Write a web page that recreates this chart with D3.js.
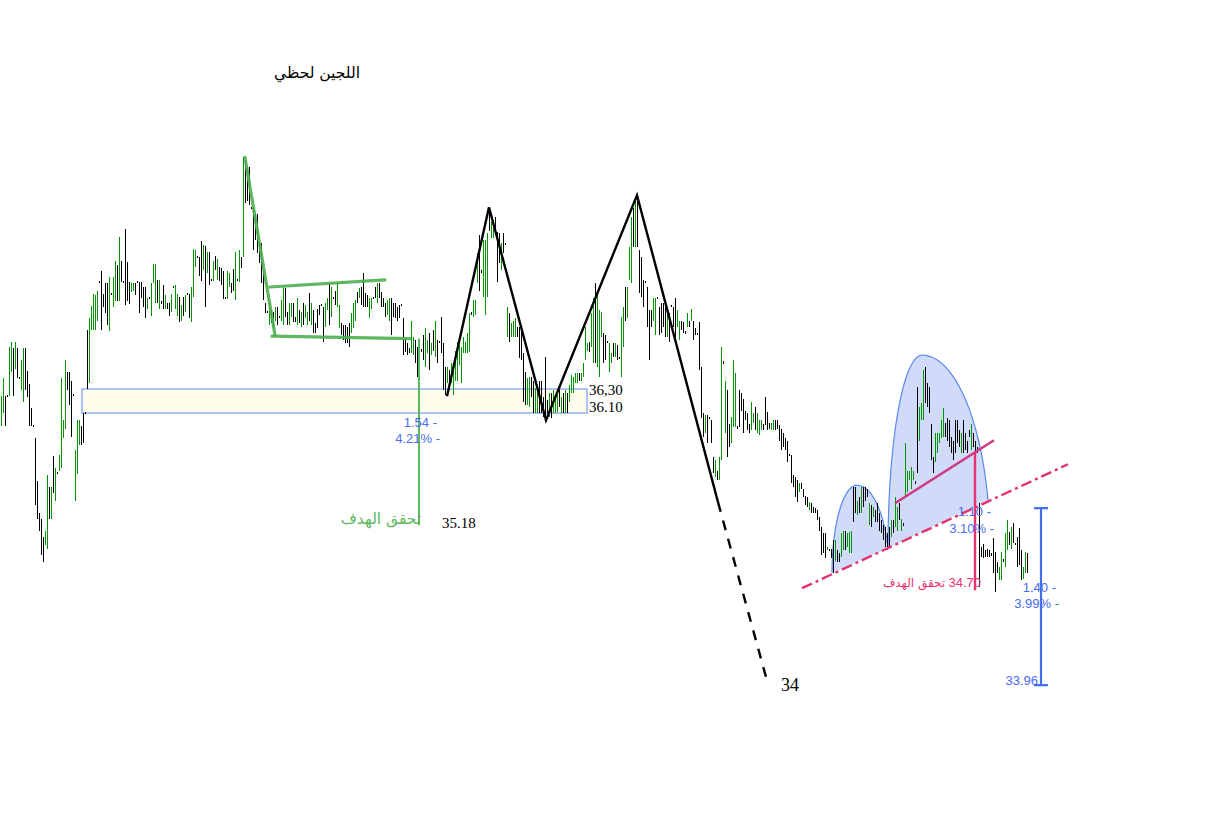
<!DOCTYPE html>
<html><head><meta charset="utf-8">
<script src="https://cdn.jsdelivr.net/npm/d3@7"></script>
<style>body{margin:0;background:#fff}svg{display:block}</style>
</head><body>
<svg id="c" width="1217" height="835"></svg>
<script>
// ---- DATA: bar highs / lows (price), direction (G = up, B = down) ----
const highs = [
36.24,36.39,36.24,36.25,36.65,36.69,36.64,36.69,36.64,36.40,
36.54,36.64,36.64,36.45,36.34,36.14,36.00,35.89,35.53,35.27,
35.22,35.07,35.12,35.58,35.48,35.48,35.74,35.64,35.61,35.75,
36.39,36.04,36.54,36.44,36.44,36.37,36.26,35.79,36.04,36.04,
35.99,36.10,36.11,36.79,36.89,36.99,37.09,37.08,37.12,37.20,
37.28,37.09,37.18,37.18,37.23,37.10,37.23,37.37,37.33,37.57,
37.37,37.20,37.63,37.36,37.19,37.18,37.18,37.18,37.20,37.19,
37.19,37.15,37.15,37.06,37.07,37.18,37.34,37.34,37.21,37.21,
37.03,37.17,37.08,37.02,37.02,37.09,37.16,37.17,37.09,37.07,
37.00,37.07,37.08,37.10,37.09,37.15,37.47,37.46,37.41,37.40,
37.53,37.50,37.49,37.44,37.44,37.22,37.37,37.41,37.38,37.32,
37.31,37.28,37.07,37.28,37.27,37.18,37.30,37.44,37.22,37.46,
37.40,38.23,38.21,38.15,38.15,37.82,37.81,37.77,37.76,37.52,
37.52,37.29,37.02,36.95,37.00,36.96,36.94,36.98,36.98,36.91,
37.04,37.15,37.14,36.94,37.02,37.02,37.02,36.90,37.06,36.96,
36.94,37.02,37.00,36.94,37.10,37.02,36.96,36.85,36.97,37.00,
37.01,36.98,37.02,37.06,37.18,37.15,37.07,37.12,37.18,37.00,
36.85,36.83,36.83,36.82,36.85,36.93,37.02,37.04,37.11,37.14,
37.15,37.27,37.10,37.08,37.06,37.06,37.07,37.15,37.18,37.18,
37.11,37.06,37.02,37.04,37.06,37.06,37.02,37.02,36.98,37.00,
37.01,36.89,36.72,36.68,36.64,36.87,36.73,36.71,36.65,36.62,
36.63,36.75,36.81,36.71,36.77,36.68,36.79,36.87,36.71,36.70,
36.90,36.68,36.48,36.48,36.46,36.52,36.52,36.62,36.69,36.67,
36.65,36.73,36.69,36.77,36.93,36.94,37.04,37.04,37.43,37.58,
37.29,37.54,37.54,37.60,37.81,37.69,37.71,37.73,37.61,37.60,
37.52,37.60,37.52,36.98,36.93,36.85,36.87,36.89,36.82,36.82,
36.79,36.60,36.44,36.39,36.40,36.40,36.37,36.31,36.29,36.37,
36.37,36.23,36.57,36.21,36.27,36.27,36.29,36.23,36.25,36.29,
36.23,36.27,36.29,36.27,36.33,36.42,36.40,36.43,36.43,36.43,
36.43,36.52,36.82,36.68,36.69,36.93,37.06,37.18,37.10,36.96,
36.94,36.77,36.75,36.70,36.68,36.60,36.68,36.68,36.67,36.57,
36.90,36.98,37.15,37.15,37.48,37.73,37.81,37.87,37.87,37.46,
37.40,37.21,37.20,37.15,36.96,36.96,37.06,37.06,37.07,36.98,
37.02,37.02,36.98,36.93,36.93,37.00,36.98,37.06,36.96,36.87,
36.87,36.86,36.78,36.93,36.87,36.97,36.87,36.81,36.77,36.86,
36.48,36.10,36.08,36.08,36.07,36.04,35.73,35.71,35.62,35.73,
36.65,36.53,36.37,36.29,36.01,36.07,36.54,36.43,35.99,36.29,
36.27,36.22,36.12,36.10,36.01,36.19,36.10,36.15,36.10,36.04,
36.04,36.01,36.23,36.11,36.02,36.02,36.04,36.04,36.04,36.00,
35.97,35.93,35.89,35.87,35.76,35.75,35.58,35.57,35.54,35.52,
35.52,35.47,35.41,35.40,35.36,35.35,35.32,35.31,35.29,35.23,
35.15,35.10,35.10,34.98,34.97,34.97,35.04,35.04,34.96,34.93,
35.10,35.12,35.12,35.10,35.11,35.12,35.48,35.48,35.37,35.40,
35.48,35.48,35.48,35.47,35.35,35.33,35.32,35.29,35.35,35.27,
35.21,35.17,35.15,35.10,35.15,35.21,35.21,35.40,35.32,35.35,
35.22,35.18,35.85,35.62,35.62,35.65,35.62,35.53,36.32,36.15,
36.18,36.46,36.48,36.35,36.32,36.01,35.73,35.93,35.93,35.93,
36.04,36.14,36.02,36.06,36.04,35.90,35.87,36.04,36.04,35.96,
35.93,36.04,35.93,35.87,35.96,36.01,35.93,35.87,35.82,35.35,
34.98,35.01,34.96,34.97,34.96,34.93,35.06,34.94,34.86,34.82,
34.94,34.88,35.10,35.21,35.11,35.15,35.18,35.02,35.07,35.14,
34.96,34.82,34.94,34.93];
const lows = [
35.99,36.10,35.99,36.23,36.24,36.44,36.24,36.47,36.39,36.38,
36.29,36.19,36.29,36.23,35.99,35.99,35.98,35.33,35.22,35.12,
34.92,34.86,35.00,34.97,35.22,35.22,35.43,35.37,35.59,35.62,
35.64,35.89,35.97,36.29,36.17,35.90,36.24,35.37,35.59,35.83,
35.83,35.85,36.09,36.30,36.35,36.79,36.79,36.79,36.87,37.18,
36.79,36.98,36.93,36.83,36.78,37.08,36.98,37.03,37.03,37.03,
37.19,37.18,37.00,37.03,37.01,37.11,37.12,37.08,37.18,36.93,
37.06,36.98,36.89,36.97,37.05,36.91,37.18,37.02,37.02,36.97,
37.01,36.97,36.97,36.97,36.91,36.94,37.14,36.97,36.91,36.86,
36.87,36.91,36.94,37.08,36.89,36.86,37.07,37.32,37.39,37.24,
37.20,37.29,36.98,37.27,37.17,37.20,37.20,37.29,37.21,37.20,
37.17,37.05,37.05,37.05,37.15,37.10,37.12,37.04,37.20,37.19,
37.31,37.40,37.85,37.87,37.83,37.80,37.46,37.54,37.43,37.35,
37.18,37.04,36.93,36.93,36.83,36.85,36.82,36.87,36.83,36.89,
36.87,36.83,36.90,36.83,36.83,36.90,36.86,36.86,36.83,36.85,
36.82,36.83,36.89,36.83,36.87,36.83,36.77,36.77,36.81,36.92,
36.99,36.69,36.82,36.96,36.83,36.90,37.05,37.00,36.98,36.81,
36.75,36.71,36.68,36.68,36.65,36.77,36.81,36.87,37.02,37.06,
37.00,36.98,36.98,36.98,36.89,36.97,37.05,37.06,37.02,37.06,
36.98,36.98,36.90,36.92,36.87,36.75,36.90,36.89,36.87,36.89,
36.99,36.58,36.61,36.58,36.60,36.60,36.58,36.52,36.40,36.46,
36.61,36.54,36.48,36.60,36.46,36.58,36.62,36.57,36.52,36.68,
36.60,36.29,36.25,36.35,36.29,36.35,36.25,36.37,36.37,36.50,
36.35,36.60,36.60,36.60,36.61,36.92,36.90,36.92,37.18,37.12,
37.27,37.07,36.92,37.07,37.62,37.56,37.56,37.62,37.19,37.35,
37.29,37.43,37.50,36.73,36.69,36.73,36.73,36.73,36.73,36.56,
36.54,36.19,36.17,36.17,36.15,36.23,36.10,36.10,36.10,36.10,
36.10,36.07,36.04,36.10,36.07,36.06,36.10,36.10,36.11,36.15,
36.10,36.10,36.10,36.10,36.19,36.27,36.27,36.35,36.35,36.37,
36.37,36.40,36.54,36.62,36.61,36.65,36.52,36.52,36.48,36.40,
36.73,36.52,36.54,36.68,36.44,36.52,36.57,36.57,36.54,36.55,
36.40,36.65,36.87,36.89,37.21,37.18,37.48,37.48,37.48,37.10,
37.07,36.98,37.18,36.82,36.54,36.82,36.87,36.75,37.05,36.75,
36.77,36.82,36.73,36.73,36.69,36.98,36.82,36.73,36.82,36.71,
36.79,36.77,36.76,36.82,36.82,36.87,36.71,36.75,36.75,36.46,
36.06,35.90,35.93,35.85,36.05,35.85,35.60,35.57,35.54,35.54,
35.71,36.51,35.93,35.73,35.82,35.85,35.98,35.98,35.97,35.98,
36.12,35.93,36.04,35.96,35.93,35.96,36.02,35.96,35.93,35.92,
35.96,35.96,36.00,35.96,35.97,35.96,35.96,35.96,35.97,35.87,
35.79,35.82,35.79,35.69,35.74,35.52,35.48,35.40,35.36,35.44,
35.47,35.40,35.33,35.32,35.29,35.27,35.27,35.27,35.21,35.12,
34.92,34.93,34.89,34.96,34.95,34.89,34.77,34.87,34.86,34.86,
34.90,34.96,34.96,34.98,34.93,34.93,35.19,35.27,35.25,35.27,
35.27,35.32,35.37,35.40,35.17,35.15,35.23,35.19,35.19,35.12,
35.10,35.04,34.98,34.96,34.98,35.07,35.10,35.15,35.12,35.21,
35.12,35.16,35.40,35.44,35.54,35.47,35.54,35.51,35.60,35.87,
36.04,36.04,36.18,36.15,36.10,35.71,35.60,35.69,35.77,35.85,
35.89,35.90,35.90,35.87,35.82,35.77,35.71,35.77,35.85,35.82,
35.77,35.77,35.79,35.77,35.90,35.79,35.82,35.73,35.77,34.65,
34.90,34.89,34.90,34.90,34.90,34.91,34.77,34.61,34.77,34.71,
34.71,34.86,34.82,34.96,35.00,34.97,35.02,35.00,34.82,34.83,
34.71,34.72,34.77,34.77];
const dirs = (
"GGBBGGBGBB"+"GGBBBBBBBB"+"BBGGBGBGBG"+"GGGBBBBGGG"+"BBBBGGGGGB"+
"BBBBGBGGBG"+"BBBBBGGBBB"+"BBBGBGGGBG"+"BBGBBGBGGB"+"GBGBBGGGBB"+
"BGBGBBGBGB"+"BBBGGBBGBG"+"BGBBBBBBBB"+"BBBBGBBGBB"+"GGBBGGBBGB"+
"GBGGBGBBBB"+"BBGGBGBBGG"+"BBBBBGGGBG"+"BBBBGGBBGB"+"BBBGGBBBBB"+
"BBBBBGGBBG"+"BBGGBGBGBB"+"BBBGBGGGGG"+"GGGGGBGGGB"+"BGGGBGGBBB"+
"GBBGBGGGBB"+"BBBGGBBGGB"+"BBBBGBGGGB"+"GBGBGGGGGB"+"GGGGBGGBGG"+
"GBBBGGBGBB"+"GGBGGGBGBB"+"BBBBBBGGBB"+"BBBGBBBBGG"+"BBBGBGBBBB"+
"BBGBBBBGBG"+"GBGBBGGGBB"+"BBBBBGGBGG"+"GBBBBGGBBB"+"BBBBBBBBBG"+
"BBBBGBBBBB"+"BBBGBBBGBB"+"GGBGGGBBGB"+"GBBBGBGBBB"+"BBBBBGBGGB"+
"GBGGGGGBBG"+"GGBBBBBGGG"+"GGBBBBBBBB"+"GBBBBGBBBB"+"BBBBBBBBBG"+
"GBGGBGBBBB"+"BGGB").split("");

// ---- annotation geometry in data coordinates [bar index, price] ----
const zone = {i0: 40.5, i1: 293, pLow: 36.10, pHigh: 36.30};
const zigzag = [[223,36.24],[244,37.815],[272.5,36.04],[318,37.915],[358.5,35.357]];
const zigzagProjection = [[358.5,35.357],[382.5,33.90]];
const flagPole = [[122,38.23],[137,36.75]];
const flagTop = [[134.5,37.15],[192,37.21]];
const flagBottom = [[135.5,36.74],[204.5,36.72]];
const flagTarget = [[209,36.72],[209,35.165]];
const cupSmall = [[415.5,34.765],[428,35.498],[443.5,34.973]];
const cupLarge = [[443.5,34.973],[460.5,36.582],[493.5,35.373]];
const trendLine = [[400.5,34.64],[533.5,35.673]];
const neckLine = [[447,35.348],[496.5,35.873]];
const pinkTarget = [[487,35.773],[487,34.623]];
const blueMeasure = [[520,35.307],[520,33.832]];

const title = "اللجين لحظي";
const targetText = "تحقق الهدف";

// ---- scales ----
const N = Math.min(highs.length, lows.length, dirs.length);
const x = d3.scaleLinear().domain([0, 513]).range([1, 1027]);
const y = d3.scaleLinear().domain([36.10, 36.30]).range([413, 389]);
const P = d => [x(d[0]), y(d[1])];
const svg = d3.select("#c");
const line = d3.line();

// zone rectangle (behind bars)
svg.append("rect")
  .attr("x", x(zone.i0)).attr("y", y(zone.pHigh))
  .attr("width", x(zone.i1) - x(zone.i0)).attr("height", y(zone.pLow) - y(zone.pHigh))
  .attr("fill", "#fffdec").attr("stroke", "#98b3f2").attr("stroke-width", 1.6);

// cups
function cupPts(c){
  const L = P(c[0]), T = P(c[1]), R = P(c[2]);
  const cx = T[0], by = L[1], ry = by - T[1], rxL = cx - L[0];
  const tR = Math.asin(Math.max(-1, Math.min(1, (by - R[1]) / ry)));
  const rxR = (R[0] - cx) / Math.cos(tR);
  const pts = [];
  for (let k = 0; k <= 48; k++){ const t = Math.PI - k/48*Math.PI/2; pts.push([cx + rxL*Math.cos(t), by - ry*Math.sin(t)]); }
  for (let k = 1; k <= 48; k++){ const t = Math.PI/2 - k/48*(Math.PI/2 - tR); pts.push([cx + rxR*Math.cos(t), by - ry*Math.sin(t)]); }
  return pts;
}
[cupSmall, cupLarge].forEach(c => {
  const pts = cupPts(c);
  svg.append("path").attr("d", line(pts) + "Z").attr("fill", "#cfdbf8").attr("stroke", "none");
  svg.append("path").attr("d", line(pts)).attr("fill", "none").attr("stroke", "#5a88f0").attr("stroke-width", 1.2);
});

// OHLC range bars
const bars = d3.range(N).map(i => ({i, h: highs[i], l: lows[i], d: dirs[i]}));
svg.append("g").attr("shape-rendering", "crispEdges").selectAll("line").data(bars).join("line")
  .attr("x1", d => Math.round(x(d.i)) + 0.5).attr("x2", d => Math.round(x(d.i)) + 0.5)
  .attr("y1", d => y(d.h))
  .attr("y2", d => Math.max(y(d.l), y(d.h) + 1.5))
  .attr("stroke", d => d.d === "G" ? "#009400" : "#000000")
  .attr("stroke-width", 1);

// flag pattern (green)
[flagPole, flagTop, flagBottom].forEach(s => {
  svg.append("path").attr("d", line(s.map(P))).attr("fill", "none")
    .attr("stroke", "#4caf50").attr("stroke-opacity", 0.9).attr("stroke-width", 3.2).attr("stroke-linecap", "round");
});
svg.append("path").attr("d", line(flagTarget.map(P))).attr("stroke", "#5cb85c").attr("stroke-width", 2);

// zigzag
svg.append("path").attr("d", line(zigzag.map(P))).attr("fill", "none")
  .attr("stroke", "#000").attr("stroke-width", 2.4).attr("stroke-linejoin", "miter");
svg.append("path").attr("d", line(zigzagProjection.map(P))).attr("fill", "none")
  .attr("stroke", "#000").attr("stroke-width", 2.4).attr("stroke-dasharray", "10,9");

// pink trend line, neckline, target
svg.append("path").attr("d", line(trendLine.map(P))).attr("fill", "none")
  .attr("stroke", "#e5336f").attr("stroke-width", 2.4).attr("stroke-dasharray", "11,4,3,4");
svg.append("path").attr("d", line(neckLine.map(P))).attr("fill", "none")
  .attr("stroke", "#cf3a80").attr("stroke-width", 2.6);
svg.append("path").attr("d", line(pinkTarget.map(P))).attr("fill", "none")
  .attr("stroke", "#e8336d").attr("stroke-width", 2.4);

// blue measure
const bm = blueMeasure.map(P);
svg.append("path").attr("d", line(bm)).attr("stroke", "#3f6ef0").attr("stroke-width", 2.2);
bm.forEach(p => svg.append("line").attr("x1", p[0]-7).attr("x2", p[0]+7).attr("y1", p[1]).attr("y2", p[1])
  .attr("stroke", "#3f6ef0").attr("stroke-width", 2.2));

// ---- texts ----
function txt(s, px, py, o){
  svg.append("text").attr("x", px).attr("y", py).text(s)
    .attr("font-family", o.f || "'Liberation Sans', Arial, sans-serif")
    .attr("font-size", o.s || 13).attr("fill", o.c || "#000")
    .attr("text-anchor", o.a || "start");
}
const serif = "'Liberation Serif', 'Times New Roman', serif";
const blue = "#4a6cf2";
txt(title, 317, 78, {f: "'DejaVu Sans', sans-serif", s: 15.5, a: "middle"});
txt("36,30", 589, 395, {f: serif, s: 15});
txt("36.10", 589, 412, {f: serif, s: 15});
txt("35.18", 442, 528, {f: serif, s: 15});
txt("34", 781, 691, {f: serif, s: 18});
txt("1.54 -", 437, 427, {c: blue, a: "end"});
txt("4.21% -", 440, 443, {c: blue, a: "end"});
txt(targetText, 381, 524, {f: "'DejaVu Sans', sans-serif", s: 15.5, c: "#5cb85c", a: "middle"});
txt("1.10 -", 991, 516, {c: blue, a: "end"});
txt("3.10% -", 994, 533, {c: blue, a: "end"});
txt("34.70", 981, 587, {s: 13, c: "#e8336d", a: "end"});
txt(targetText, 914, 587, {f: "'DejaVu Sans', sans-serif", s: 12, c: "#e8336d", a: "middle"});
txt("1.40 -", 1056, 592, {c: blue, a: "end"});
txt("3.99% -", 1059, 608, {c: blue, a: "end"});
txt("33.96", 1038, 685, {c: blue, a: "end"});
</script>
</body></html>
